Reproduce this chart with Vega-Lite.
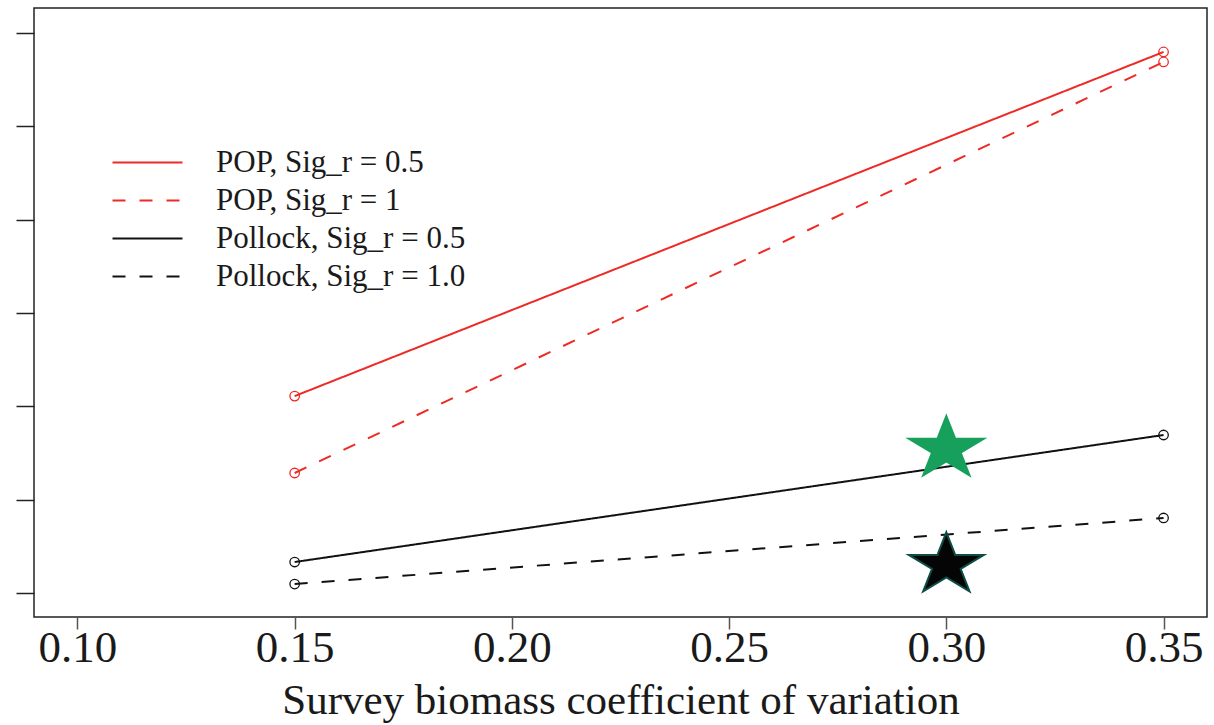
{
  "$schema": "https://vega.github.io/schema/vega-lite/v6.json",
  "autosize": "none",
  "padding": {"left": 34, "top": 8, "right": 7, "bottom": 108},
  "width": 1173,
  "height": 609,
  "background": "white",
  "config": {
    "view": {"stroke": "#222", "strokeWidth": 1.5},
    "font": "Liberation Serif"
  },
  "datasets": {
    "lines": [
      {"series": "POP, Sig_r = 0.5", "cv": 0.15, "value": 2.11},
      {"series": "POP, Sig_r = 0.5", "cv": 0.35, "value": 5.797},
      {"series": "POP, Sig_r = 1", "cv": 0.15, "value": 1.286},
      {"series": "POP, Sig_r = 1", "cv": 0.35, "value": 5.69},
      {"series": "Pollock, Sig_r = 0.5", "cv": 0.15, "value": 0.332},
      {"series": "Pollock, Sig_r = 0.5", "cv": 0.35, "value": 1.693},
      {"series": "Pollock, Sig_r = 1.0", "cv": 0.15, "value": 0.096},
      {"series": "Pollock, Sig_r = 1.0", "cv": 0.35, "value": 0.804}
    ],
    "stars": [
      {"star": "green", "cv": 0.30, "value": 1.545},
      {"star": "black", "cv": 0.30, "value": 0.30}
    ]
  },
  "layer": [
    {
      "data": {"name": "lines"},
      "mark": {"type": "line", "strokeWidth": 2},
      "encoding": {
        "x": {
          "field": "cv", "type": "quantitative",
          "scale": {"domain": [0.09, 0.36], "nice": false, "zero": false},
          "axis": {
            "values": [0.10, 0.15, 0.20, 0.25, 0.30, 0.35],
            "format": ".2f",
            "title": "Survey biomass coefficient of variation",
            "titleFont": "Liberation Serif", "titleFontSize": 43, "titleFontWeight": "normal",
            "titleColor": "#1a1a1a", "titlePadding": 9,
            "labelFont": "Liberation Serif", "labelFontSize": 45, "labelColor": "#1a1a1a",
            "labelPadding": -4,
            "domain": false, "grid": false,
            "tickSize": 12, "tickColor": "#555", "tickWidth": 1.5,
            "labelFlush": false, "labelOverlap": false
          }
        },
        "y": {
          "field": "value", "type": "quantitative",
          "scale": {"domain": [-0.257, 6.268], "nice": false, "zero": false},
          "axis": {
            "values": [0, 1, 2, 3, 4, 5, 6],
            "labels": false, "title": null, "domain": false, "grid": false,
            "tickSize": 18, "tickColor": "#222", "tickWidth": 1.5
          }
        },
        "color": {
          "field": "series", "type": "nominal",
          "scale": {
            "domain": ["POP, Sig_r = 0.5", "POP, Sig_r = 1", "Pollock, Sig_r = 0.5", "Pollock, Sig_r = 1.0"],
            "range": ["#ee2a24", "#ee2a24", "#111111", "#111111"]
          },
          "legend": {
            "orient": "none", "legendX": 98, "legendY": 139,
            "title": null,
            "symbolType": "M-5,0L5,0",
            "symbolSize": 196,
            "symbolStrokeWidth": 2,
            "labelFont": "Liberation Serif", "labelFontSize": 31, "labelColor": "#1a1a1a",
            "labelLimit": 0,
            "labelOffset": 53, "rowPadding": 6, "padding": 0
          }
        },
        "strokeDash": {
          "field": "series", "type": "nominal",
          "scale": {
            "domain": ["POP, Sig_r = 0.5", "POP, Sig_r = 1", "Pollock, Sig_r = 0.5", "Pollock, Sig_r = 1.0"],
            "range": [[1, 0], [13, 14], [1, 0], [13, 14]]
          },
          "legend": {
            "orient": "none", "legendX": 98, "legendY": 139,
            "title": null,
            "symbolType": "M-5,0L5,0",
            "symbolSize": 196,
            "symbolStrokeWidth": 2,
            "labelFont": "Liberation Serif", "labelFontSize": 31, "labelColor": "#1a1a1a",
            "labelLimit": 0,
            "labelOffset": 53, "rowPadding": 6, "padding": 0
          }
        }
      }
    },
    {
      "data": {"name": "lines"},
      "mark": {"type": "point", "shape": "circle", "filled": false, "size": 90, "strokeWidth": 1.3, "opacity": 1},
      "encoding": {
        "x": {"field": "cv", "type": "quantitative"},
        "y": {"field": "value", "type": "quantitative"},
        "color": {"field": "series", "type": "nominal", "legend": null}
      }
    },
    {
      "data": {"name": "stars"},
      "mark": {
        "type": "point",
        "shape": "M0,-0.83L0.225,-0.256L0.951,-0.256L0.363,0.098L0.588,0.671L0,0.317L-0.588,0.671L-0.363,0.098L-0.951,-0.256L-0.225,-0.256Z",
        "size": 6210, "filled": true, "opacity": 1, "strokeWidth": 2
      },
      "encoding": {
        "x": {"field": "cv", "type": "quantitative"},
        "y": {"field": "value", "type": "quantitative"},
        "fill": {
          "field": "star", "type": "nominal",
          "scale": {"domain": ["green", "black"], "range": ["#16a05c", "#050505"]},
          "legend": null
        },
        "stroke": {
          "field": "star", "type": "nominal",
          "scale": {"domain": ["green", "black"], "range": ["#16a05c", "#0d4d45"]},
          "legend": null
        }
      }
    }
  ]
}
